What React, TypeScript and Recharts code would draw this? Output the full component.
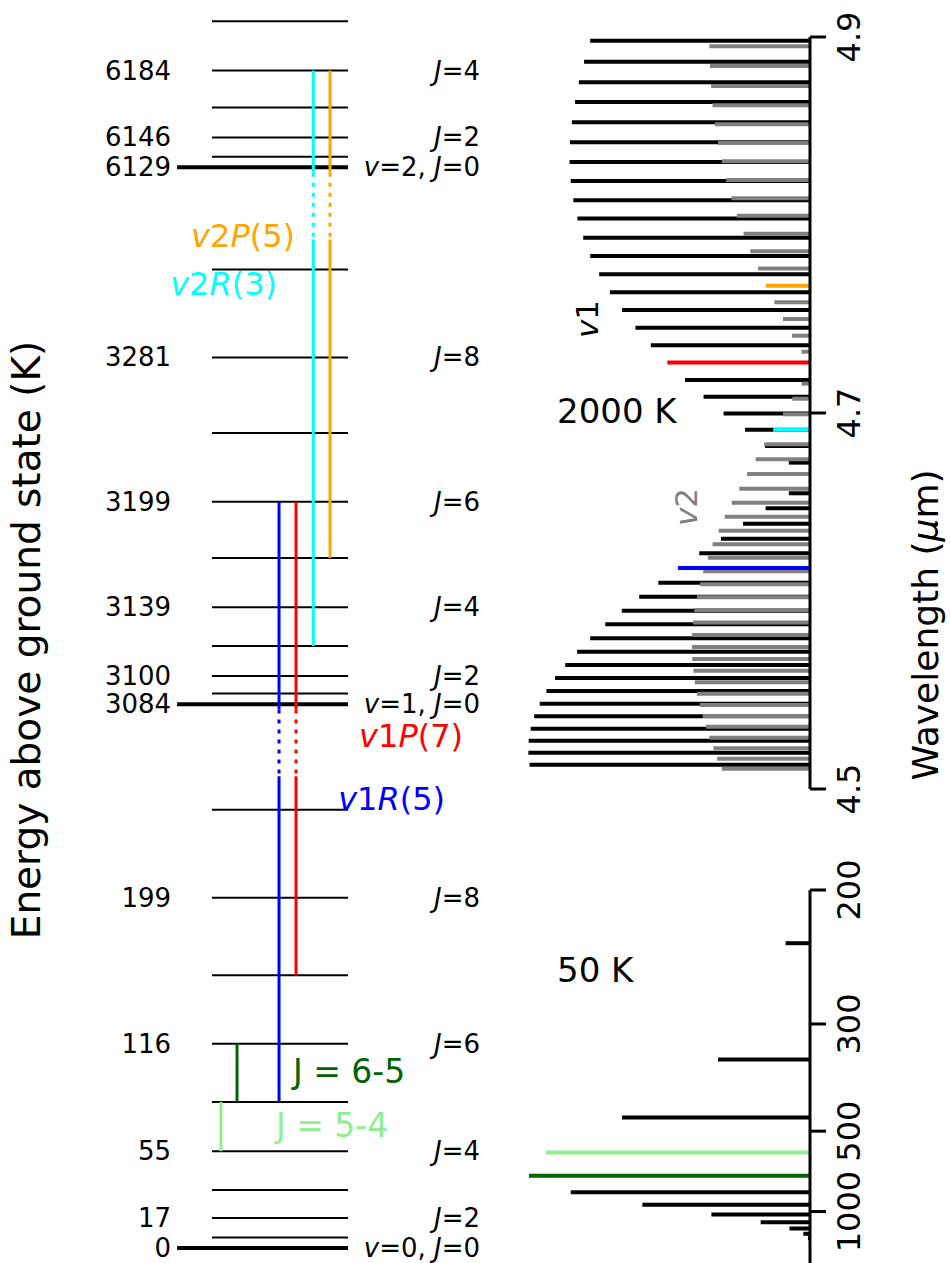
import React from 'react';
import { ComposedChart, XAxis, YAxis, ReferenceLine, Scatter } from 'recharts';

const FONT = '"DejaVu Sans", Verdana, sans-serif';

// CO rotational ladders, energy above the ground state in K (index = J)
const v0Levels = [0, 6, 17, 33, 55, 83, 116, 155, 199, 249];
const v1Levels = [3084, 3090, 3100, 3117, 3139, 3167, 3199, 3238, 3281, 3331];
const v2Levels = [6129, 6135, 6146, 6163, 6184, 6212];
const ladders = [v0Levels, v1Levels, v2Levels];

// J values that get their energy and quantum numbers written out
const taggedJ = [
  [0, 2, 4, 6, 8],
  [0, 2, 4, 6, 8],
  [0, 2, 4],
];

// transitions, [v, J] of upper and lower level
const transitions = [
  { name: 'v2R(3)', upper: [2, 4], lower: [1, 3] },
  { name: 'v2P(5)', upper: [2, 4], lower: [1, 5] },
  { name: 'v1R(5)', upper: [1, 6], lower: [0, 5] },
  { name: 'v1P(7)', upper: [1, 6], lower: [0, 7] },
  { name: 'J = 6-5', upper: [0, 6], lower: [0, 5] },
  { name: 'J = 5-4', upper: [0, 5], lower: [0, 4] },
];

// 2000 K: wavelength (um) and relative strength
const v1PWave = [4.6736, 4.6824, 4.6911, 4.6998, 4.7087, 4.7176, 4.7268, 4.736, 4.7454, 4.7548, 4.7642, 4.7738,
  4.7835, 4.7932, 4.8034, 4.8131, 4.8234, 4.8335, 4.844, 4.8546, 4.8654, 4.8759, 4.8869, 4.898];
const v1PStrength = [0.073, 0.155, 0.224, 0.298, 0.367, 0.431, 0.492, 0.549, 0.602, 0.648, 0.69, 0.727,
  0.758, 0.782, 0.802, 0.816, 0.825, 0.829, 0.828, 0.821, 0.81, 0.797, 0.779, 0.758];
const v1RWave = [4.6573, 4.6493, 4.6411, 4.6331, 4.6254, 4.6176, 4.6097, 4.6023, 4.5948, 4.5876, 4.5802,
  4.573, 4.566, 4.559, 4.5521, 4.5454, 4.5387, 4.5321, 4.5257, 4.5193, 4.5129];
const v1RStrength = [0.073, 0.153, 0.231, 0.307, 0.382, 0.455, 0.523, 0.589, 0.649, 0.706, 0.758,
  0.803, 0.844, 0.879, 0.909, 0.932, 0.951, 0.963, 0.97, 0.971, 0.967];
const v2PWave = [4.7326, 4.7411, 4.75, 4.7589, 4.7677, 4.7768, 4.786, 4.7954, 4.8049, 4.8142, 4.8239, 4.8339,
  4.8436, 4.8536, 4.8637, 4.8739, 4.8846, 4.8951];
const v2PStrength = [0.029, 0.062, 0.093, 0.123, 0.152, 0.179, 0.206, 0.229, 0.252, 0.271, 0.289, 0.304,
  0.317, 0.328, 0.336, 0.341, 0.345, 0.347];
const v2RWave = [4.7156, 4.7076, 4.6993, 4.6911, 4.6834, 4.6754, 4.6676, 4.6597, 4.6523, 4.6448, 4.6374,
  4.6302, 4.623, 4.6158, 4.6089, 4.602, 4.5952, 4.5885, 4.5819, 4.5755, 4.5691, 4.5629, 4.5568, 4.5507,
  4.5447, 4.5388, 4.5331, 4.5273, 4.5217, 4.5161, 4.5108];
const v2RStrength = [0.029, 0.061, 0.093, 0.127, 0.158, 0.187, 0.217, 0.244, 0.27, 0.294, 0.315,
  0.336, 0.352, 0.368, 0.379, 0.39, 0.399, 0.403, 0.407, 0.407, 0.406, 0.402, 0.397, 0.39,
  0.38, 0.37, 0.359, 0.347, 0.333, 0.32, 0.304];
const hotTicks = [4.5, 4.7, 4.9];

// 50 K: pure rotational lines J -> J-1
const coldUpperJ = [2, 3, 4, 5, 6, 7, 8, 9, 10, 11, 12, 13];
const coldWave = [230.5, 345.8, 461.0, 576.3, 691.5, 806.7, 921.8, 1036.9, 1152.0, 1267.0, 1382.0, 1497.0];
const coldStrength = [0.084, 0.317, 0.648, 0.91, 0.969, 0.825, 0.578, 0.34, 0.17, 0.071, 0.023, 0.007];
const coldTicks = [200, 300, 500, 1000];

// ---- layout / style ----
const LADDER_BASE = [0, 309, 614]; // broken axis: where each ladder's J=0 sits
const BREAK_GAP = 3;
const BREAK_SPAN = 38;
const THICK_START = -0.257;
const NUM_X = -0.301;
const TAG_X = 1.971;

const colors: Record<string, string> = {
  'v2R(3)': '#00ffff',
  'v2P(5)': '#ffa500',
  'v1R(5)': '#0000ff',
  'v1P(7)': '#ff0000',
  'J = 6-5': '#006400',
  'J = 5-4': '#90ee90',
};
const column: Record<string, number> = {
  'J = 5-4': 0.066,
  'J = 6-5': 0.184,
  'v1R(5)': 0.493,
  'v1P(7)': 0.618,
  'v2R(3)': 0.745,
  'v2P(5)': 0.868,
};

const onAxis = (v: number, J: number) => ladders[v][J] - ladders[v][0] + LADDER_BASE[v];

const levelRows = ladders.flatMap((lad, v) => lad.map((_, J) => ({ v, J, y: onAxis(v, J) })));
const numberTags = ladders.flatMap((lad, v) =>
  taggedJ[v].map((J) => ({ x: NUM_X, y: onAxis(v, J), text: String(lad[J]) })),
);
const quantumTags = ladders.flatMap((_, v) => taggedJ[v].map((J) => ({ x: TAG_X, y: onAxis(v, J), v, J })));

type Seg = { from: number; to: number; dotted: boolean };
const segmentsOf = (t: (typeof transitions)[number]): Seg[] => {
  const [vu, ju] = t.upper;
  const [vl, jl] = t.lower;
  const top = onAxis(vu, ju);
  const bottom = onAxis(vl, jl);
  if (vu === vl) return [{ from: top, to: bottom, dotted: false }];
  const b1 = LADDER_BASE[vu] - BREAK_GAP;
  const b2 = b1 - BREAK_SPAN;
  return [
    { from: top, to: b1, dotted: false },
    { from: b1, to: b2, dotted: true },
    { from: b2, to: bottom, dotted: false },
  ];
};

type SpecLine = { name: string; w: number; s: number; band: number };
const hotLines: SpecLine[] = [
  ...v1PWave.map((w, i) => ({ name: `v1P(${i + 1})`, w, s: v1PStrength[i], band: 1 })),
  ...v1RWave.map((w, i) => ({ name: `v1R(${i})`, w, s: v1RStrength[i], band: 1 })),
  ...v2PWave.map((w, i) => ({ name: `v2P(${i + 1})`, w, s: v2PStrength[i], band: 2 })),
  ...v2RWave.map((w, i) => ({ name: `v2R(${i})`, w, s: v2RStrength[i], band: 2 })),
];
// black band first, grey on top, highlighted lines last
const hotOrdered = [
  ...hotLines.filter((l) => !colors[l.name] && l.band === 1),
  ...hotLines.filter((l) => !colors[l.name] && l.band === 2),
  ...hotLines.filter((l) => colors[l.name]),
];
const coldLines = coldWave.map((w, i) => ({
  name: `J = ${coldUpperJ[i]}-${coldUpperJ[i] - 1}`,
  y: 1000 / w,
  s: coldStrength[i],
}));
const coldOrdered = [...coldLines.filter((l) => !colors[l.name]), ...coldLines.filter((l) => colors[l.name])];

const axisStroke = { stroke: '#000', strokeWidth: 3 };

const RotTick = (p: any) => {
  const bx = p.x + 32;
  return (
    <text x={bx} y={p.y} transform={`rotate(-90, ${bx}, ${p.y})`} textAnchor="middle" fontSize={32}
      fontFamily={FONT} fill="#000">
      {p.text}
    </text>
  );
};

// line tips carry the data for the axes; the lines themselves are reference segments
const NoMark = () => <g />;

const NumberTag = (p: any) => (
  <text x={p.cx} y={p.cy} dy={9} textAnchor="end" fontSize={26} fontFamily={FONT} fill="#000">
    {p.payload.text}
  </text>
);

const QuantumTag = (p: any) => {
  const { v, J } = p.payload;
  return (
    <text x={p.cx} y={p.cy} dy={9} textAnchor="end" fontSize={26} fontFamily={FONT} fill="#000">
      {J === 0 ? (
        <>
          <tspan fontStyle="italic">v</tspan>={v}, <tspan fontStyle="italic">J</tspan>=0
        </>
      ) : (
        <>
          <tspan fontStyle="italic">J</tspan>={J}
        </>
      )}
    </text>
  );
};

const it = (s: string) => <tspan fontStyle="italic">{s}</tspan>;

const LevelDiagram = () => (
  <ComposedChart width={500} height={1263} margin={{ top: 0, right: 0, bottom: 0, left: 0 }}>
    <XAxis type="number" dataKey="x" domain={[-1.559, 2.118]} hide />
    <YAxis type="number" dataKey="y" domain={[-8.52, 709.09]} hide />
    {levelRows.map((r) => (
      <ReferenceLine
        key={`lvl-${r.v}-${r.J}`}
        segment={[{ x: r.J === 0 ? THICK_START : 0, y: r.y }, { x: 1, y: r.y }]}
        stroke="#000"
        strokeWidth={r.J === 0 ? 4 : 2}
      />
    ))}
    {transitions.flatMap((t) =>
      segmentsOf(t).map((s, i) => (
        <ReferenceLine
          key={`${t.name}-${i}`}
          segment={[{ x: column[t.name], y: s.from }, { x: column[t.name], y: s.to }]}
          stroke={colors[t.name]}
          strokeWidth={3}
          strokeDasharray={s.dotted ? '4 6' : undefined}
        />
      )),
    )}
    <Scatter data={numberTags} shape={NumberTag} isAnimationActive={false} />
    <Scatter data={quantumTags} shape={QuantumTag} isAnimationActive={false} />
  </ComposedChart>
);

const HotSpectrum = () => (
  <ComposedChart width={471} height={820} margin={{ top: 37, right: 81, bottom: 31, left: 40 }}>
    <XAxis type="number" dataKey="s" domain={[0, 1]} reversed hide />
    <YAxis
      type="number"
      dataKey="w"
      orientation="right"
      domain={[4.5, 4.9]}
      ticks={hotTicks}
      interval={0}
      width={60}
      tickSize={16}
      axisLine={axisStroke}
      tickLine={axisStroke}
      tick={(p: any) => <RotTick {...p} text={Number(p.payload.value).toFixed(1)} />}
    />
    {hotOrdered.map((l) => (
      <ReferenceLine
        key={l.name}
        segment={[{ x: 0, y: l.w }, { x: l.s, y: l.w }]}
        stroke={colors[l.name] ?? (l.band === 1 ? '#000' : '#808080')}
        strokeWidth={4}
      />
    ))}
    <Scatter data={hotLines} shape={NoMark} isAnimationActive={false} />
  </ComposedChart>
);

const ColdSpectrum = () => (
  <ComposedChart width={471} height={413} margin={{ top: 40, right: 81, bottom: 0, left: 40 }}>
    <XAxis type="number" dataKey="s" domain={[0, 1]} reversed hide />
    <YAxis
      type="number"
      dataKey="y"
      orientation="right"
      domain={[0.36, 5]}
      ticks={coldTicks.map((t) => 1000 / t)}
      interval={0}
      width={60}
      tickSize={16}
      axisLine={axisStroke}
      tickLine={axisStroke}
      tick={(p: any) => <RotTick {...p} text={String(Math.round(1000 / p.payload.value))} />}
    />
    {coldOrdered.map((l) => (
      <ReferenceLine
        key={l.name}
        segment={[{ x: 0, y: l.y }, { x: l.s, y: l.y }]}
        stroke={colors[l.name] ?? '#000'}
        strokeWidth={4}
      />
    ))}
    <Scatter data={coldLines} shape={NoMark} isAnimationActive={false} />
  </ComposedChart>
);

export default function App() {
  return (
    <div style={{ position: 'absolute', left: 0, top: 0, width: 951, height: 1263, background: '#fff' }}>
      <div style={{ position: 'absolute', left: 0, top: 0 }}>
        <LevelDiagram />
      </div>
      <div style={{ position: 'absolute', left: 480, top: 0 }}>
        <HotSpectrum />
      </div>
      <div style={{ position: 'absolute', left: 480, top: 850 }}>
        <ColdSpectrum />
      </div>
      <svg width={951} height={1263} style={{ position: 'absolute', left: 0, top: 0, pointerEvents: 'none' }}
        fontFamily={FONT}>
        <text x={40} y={640} transform="rotate(-90, 40, 640)" textAnchor="middle" fontSize={39} fill="#000">
          Energy above ground state (K)
        </text>
        <text x={938} y={625} transform="rotate(-90, 938, 625)" textAnchor="middle" fontSize={36} fill="#000">
          Wavelength ({it('μ')}m)
        </text>

        <text x={295} y={247} textAnchor="end" fontSize={32} fill={colors['v2P(5)']}>
          {it('v')}2{it('P')}(5)
        </text>
        <text x={277} y={295} textAnchor="end" fontSize={32} fill={colors['v2R(3)']}>
          {it('v')}2{it('R')}(3)
        </text>
        <text x={463} y={747} textAnchor="end" fontSize={32} fill={colors['v1P(7)']}>
          {it('v')}1{it('P')}(7)
        </text>
        <text x={445} y={810} textAnchor="end" fontSize={32} fill={colors['v1R(5)']}>
          {it('v')}1{it('R')}(5)
        </text>
        <text x={293} y={1083} fontSize={33} fill={colors['J = 6-5']}>J = 6-5</text>
        <text x={276} y={1137} fontSize={33} fill={colors['J = 5-4']}>J = 5-4</text>

        <text x={557} y={423} fontSize={34} fill="#000">2000 K</text>
        <text x={557} y={982} fontSize={34} fill="#000">50 K</text>
        <text x={598} y={319} transform="rotate(-90, 598, 319)" textAnchor="middle" fontSize={31} fill="#000">
          {it('v')}1
        </text>
        <text x={697} y={507} transform="rotate(-90, 697, 507)" textAnchor="middle" fontSize={31} fill="#808080">
          {it('v')}2
        </text>
      </svg>
    </div>
  );
}
